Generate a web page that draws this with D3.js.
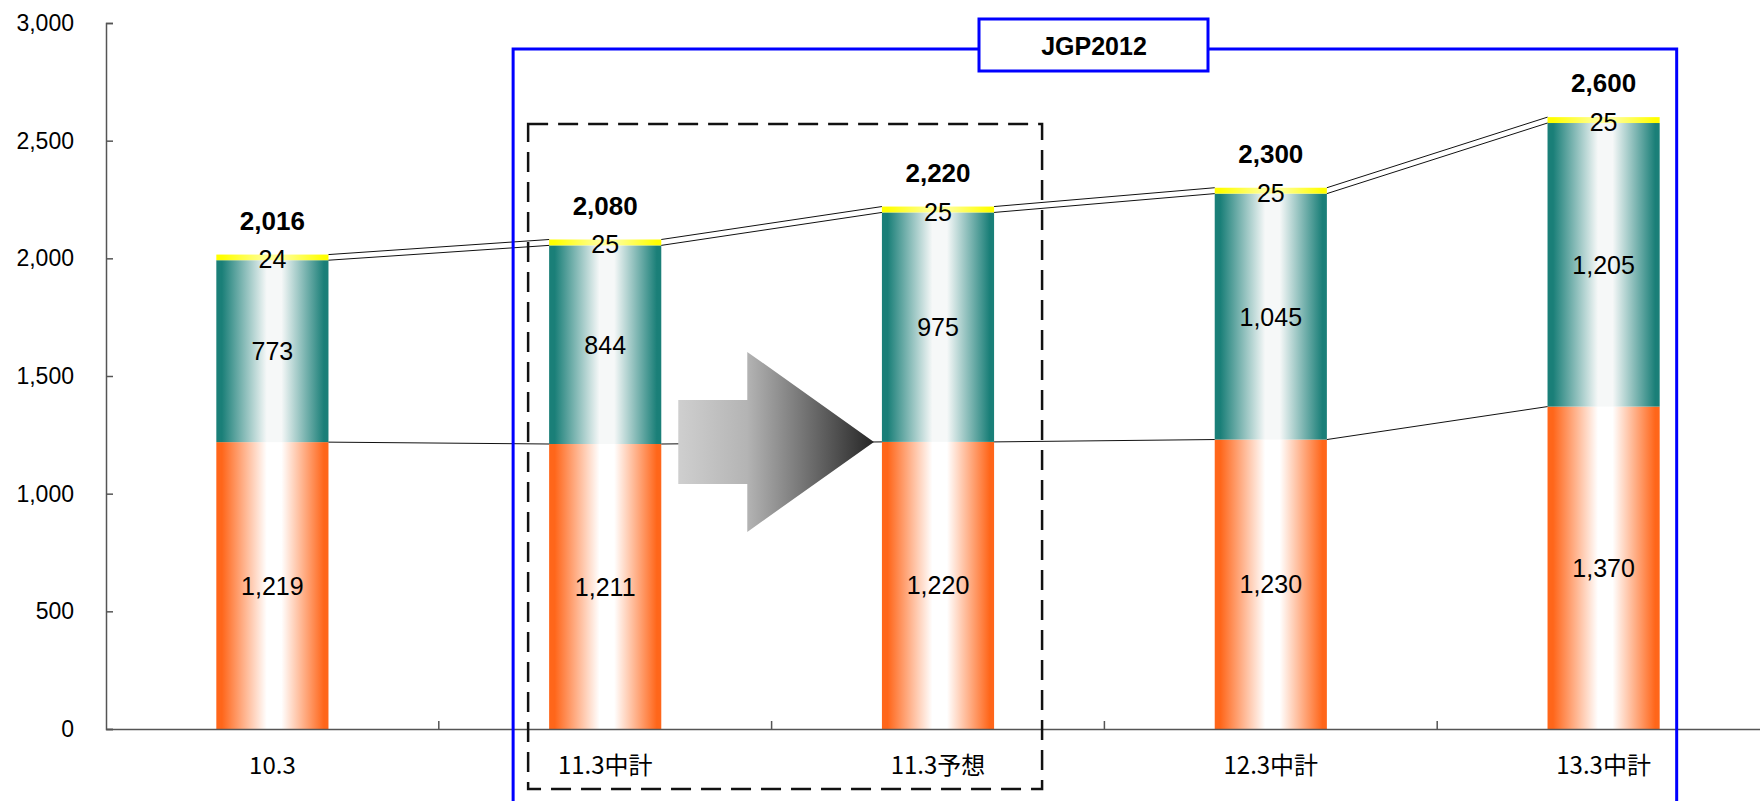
<!DOCTYPE html>
<html>
<head>
<meta charset="UTF-8">
<title>JGP2012 stacked bars</title>
<style>
  body { margin: 0; background: #fff; }
  svg { display: block; }
  .num { font-family: "Liberation Sans", Arial, sans-serif; fill: #000; }
  .cat { font-family: "Noto Sans CJK JP", "Liberation Sans", sans-serif; fill: #000; }
</style>
</head>
<body>
<svg id="chart"></svg>
<script src="https://d3js.org/d3.v7.min.js"></script>
<script>
// data
var categories = ["10.3", "11.3中計", "11.3予想", "12.3中計", "13.3中計"];
var seriesA = [1219, 1211, 1220, 1230, 1370];   // orange (bottom)
var seriesB = [773, 844, 975, 1045, 1205];      // teal (middle)
var seriesC = [24, 25, 25, 25, 25];             // yellow (top)
var totals = [2016, 2080, 2220, 2300, 2600];
var yTicks = [0, 500, 1000, 1500, 2000, 2500, 3000];
var boxLabel = "JGP2012";

var W = 1760, H = 801;

var svg = d3.select("#chart").attr("width", W).attr("height", H);

// table for the stack
var rows = categories.map(function(c, i) {
  return { cat: c, a: seriesA[i], b: seriesB[i], c: seriesC[i] };
});
var keys = ["a", "b", "c"];
var colors = { a: "#ff661a", b: "#1a7f78", c: "#ffff00" };
var centers = { a: "#ffffff", b: "#f6f8f8", c: "#ffff9a" };

var stack = d3.stack().keys(keys)(rows);

var x = d3.scaleBand()
  .domain(categories)
  .range([106, 1770])
  .paddingInner(0.663)
  .paddingOuter(0.3315);

var y = d3.scaleLinear()
  .domain([0, 3000])
  .range([729, 23]);

// gradients
var defs = svg.append("defs");
keys.forEach(function(k) {
  var g = defs.append("linearGradient").attr("id", "grad-" + k)
    .attr("x1", 0).attr("x2", 1).attr("y1", 0).attr("y2", 0);
  [[0, colors[k]], [0.05, colors[k]], [0.45, centers[k]], [0.58, centers[k]], [0.96, colors[k]], [1, colors[k]]]
    .forEach(function(s) {
      g.append("stop").attr("offset", s[0]).attr("stop-color", s[1]);
    });
});
var ag = defs.append("linearGradient").attr("id", "grad-arrow")
  .attr("x1", 0).attr("x2", 1).attr("y1", 0).attr("y2", 0);
ag.append("stop").attr("offset", 0).attr("stop-color", "#cfcfcf");
ag.append("stop").attr("offset", 0.35).attr("stop-color", "#b4b4b4");
ag.append("stop").attr("offset", 1).attr("stop-color", "#262626");

// bars
svg.selectAll(".layer")
  .data(stack)
  .enter().append("g")
  .attr("class", "layer")
  .attr("fill", function(d) { return "url(#grad-" + d.key + ")"; })
  .selectAll("rect")
  .data(function(d) { return d; })
  .enter().append("rect")
  .attr("x", function(d) { return x(d.data.cat); })
  .attr("width", x.bandwidth())
  .attr("y", function(d) { return y(d[1]); })
  .attr("height", function(d) { return y(d[0]) - y(d[1]); });

// series lines between bars
stack.forEach(function(layer) {
  for (var i = 0; i < layer.length - 1; i++) {
    svg.append("line")
      .attr("x1", x(categories[i]) + x.bandwidth())
      .attr("x2", x(categories[i + 1]))
      .attr("y1", y(layer[i][1]))
      .attr("y2", y(layer[i + 1][1]))
      .attr("stroke", "#111")
      .attr("stroke-width", 1);
  }
});

// segment labels
stack.forEach(function(layer) {
  svg.selectAll(".lbl-" + layer.key)
    .data(layer)
    .enter().append("text")
    .attr("class", "num")
    .attr("x", function(d) { return x(d.data.cat) + x.bandwidth() / 2; })
    .attr("y", function(d) { return (y(d[0]) + y(d[1])) / 2 + (layer.key === "c" ? 2 : 0); })
    .attr("dy", "0.36em")
    .attr("text-anchor", "middle")
    .style("font-size", "25px")
    .text(function(d) { return d3.format(",")(d.data[layer.key]); });
});

// totals
svg.selectAll(".total")
  .data(totals)
  .enter().append("text")
  .attr("class", "num")
  .attr("x", function(d, i) { return x(categories[i]) + x.bandwidth() / 2; })
  .attr("y", function(d) { return y(d) - 25; })
  .attr("text-anchor", "middle")
  .style("font-size", "26px")
  .style("font-weight", "bold")
  .text(function(d) { return d3.format(",")(d); });

// y axis
var yAxis = svg.append("g")
  .attr("transform", "translate(106,0)")
  .call(d3.axisLeft(y).tickValues(yTicks).tickSize(-7).tickPadding(32).tickFormat(d3.format(",")));
yAxis.select(".domain").attr("stroke", "#555").attr("stroke-width", 1.5);
yAxis.selectAll(".tick line").attr("stroke", "#555").attr("stroke-width", 1.5);
yAxis.selectAll("text").attr("class", "num").style("font-size", "23px");

// x axis
var xAxis = svg.append("g")
  .attr("transform", "translate(0,729)")
  .call(d3.axisBottom(x).tickSize(0).tickPadding(28));
xAxis.select(".domain").attr("stroke", "#555").attr("stroke-width", 1.5);
xAxis.selectAll("text").attr("class", "cat").style("font-size", "24px");
// boundary ticks between categories
xAxis.selectAll(".bound")
  .data(categories.slice(0, -1))
  .enter().append("line")
  .attr("x1", function(d) { return x(d) + x.bandwidth() / 2 + x.step() / 2; })
  .attr("x2", function(d) { return x(d) + x.bandwidth() / 2 + x.step() / 2; })
  .attr("y1", 0).attr("y2", -8)
  .attr("stroke", "#555").attr("stroke-width", 1.5);

// arrow between 11.3中計 and 11.3予想
var ax0 = x(categories[1]) + x.bandwidth() + 17,
    ax2 = x(categories[2]) - 8,
    ax1 = ax0 + 69,
    ay = y(seriesA[2]);
svg.append("path")
  .attr("d", d3.line()([
    [ax0, ay - 42], [ax1, ay - 42], [ax1, ay - 90], [ax2, ay],
    [ax1, ay + 90], [ax1, ay + 42], [ax0, ay + 42]
  ]) + "Z")
  .attr("fill", "url(#grad-arrow)");

// blue JGP2012 frame
var bx0 = x(categories[1]) - 36,
    bx1 = x(categories[4]) + x.bandwidth() + 17;
svg.append("rect")
  .attr("x", bx0).attr("y", 49)
  .attr("width", bx1 - bx0).attr("height", 800)
  .attr("fill", "none").attr("stroke", "#0000ff").attr("stroke-width", 3);
svg.append("rect")
  .attr("x", 979).attr("y", 19)
  .attr("width", 229).attr("height", 52)
  .attr("fill", "#fff").attr("stroke", "#0000ff").attr("stroke-width", 3);
svg.append("text")
  .attr("class", "num")
  .attr("x", 1094).attr("y", 55)
  .attr("text-anchor", "middle")
  .style("font-size", "25px")
  .style("font-weight", "bold")
  .text(boxLabel);

// dashed frame round 11.3中計 and 11.3予想
var dx0 = x(categories[1]) - 21,
    dx1 = x(categories[2]) + x.bandwidth() + 48;
svg.append("rect")
  .attr("x", dx0).attr("y", 124)
  .attr("width", dx1 - dx0).attr("height", 665)
  .attr("fill", "none").attr("stroke", "#111")
  .attr("stroke-width", 2.5).attr("stroke-dasharray", "20,10");
</script>
</body>
</html>
